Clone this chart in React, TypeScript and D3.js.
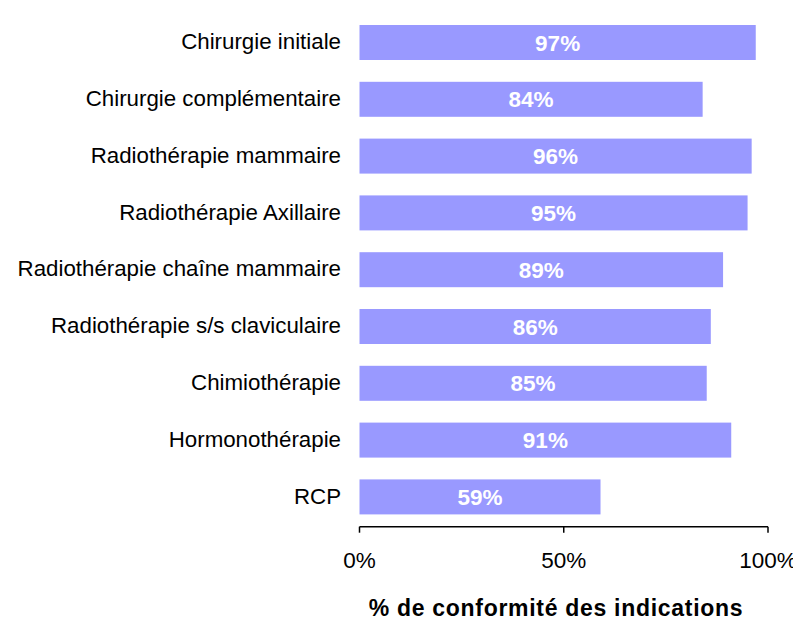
import React from "react";
import * as d3 from "d3";

const categories = [
  "Chirurgie initiale",
  "Chirurgie complémentaire",
  "Radiothérapie mammaire",
  "Radiothérapie Axillaire",
  "Radiothérapie chaîne mammaire",
  "Radiothérapie s/s claviculaire",
  "Chimiothérapie",
  "Hormonothérapie",
  "RCP",
];
const values = [97, 84, 96, 95, 89, 86, 85, 91, 59];
const ticks = [0, 50, 100];
const axisTitle = "% de conformité des indications";

const W = 793;
const H = 623;
const FONT = "'Liberation Sans', Arial, sans-serif";

export default function App() {
  const x = d3.scaleLinear().domain([0, 100]).range([359.5, 768]);
  const y = d3
    .scaleBand<string>()
    .domain(categories)
    .range([14.1, 525.3])
    .paddingInner(0.384)
    .paddingOuter(0.192);
  const axisY = 526.7;
  return (
    <svg
      width={W}
      height={H}
      style={{ position: "absolute", left: 0, top: 0, background: "#fff" }}
      fontFamily={FONT}
    >
      {categories.map((c, i) => {
        const yc = (y(c) as number) + y.bandwidth() / 2;
        return (
          <g key={c}>
            <rect
              x={x(0)}
              y={y(c)}
              width={x(values[i]) - x(0)}
              height={y.bandwidth()}
              fill="#9999FF"
            />
            <text
              x={(x(0) + x(values[i])) / 2}
              y={yc}
              dy="0.36em"
              textAnchor="middle"
              fill="#fff"
              fontWeight="bold"
              fontSize={22.5}
            >
              {values[i]}%
            </text>
            <text x={341} y={yc} dy="0.3em" textAnchor="end" fontSize={22.3} fill="#000">
              {c}
            </text>
          </g>
        );
      })}
      <line x1={x(0)} x2={x(100)} y1={axisY} y2={axisY} stroke="#000" strokeWidth={1.5} />
      {ticks.map((t) => (
        <g key={t}>
          <line x1={x(t)} x2={x(t)} y1={axisY} y2={axisY + 6} stroke="#000" strokeWidth={1.5} />
          <text x={x(t)} y={568} textAnchor="middle" fontSize={22.5} fill="#000">
            {t}%
          </text>
        </g>
      ))}
      <text
        x={556}
        y={616}
        textAnchor="middle"
        fontSize={23}
        fontWeight="bold"
        letterSpacing={0.7}
        fill="#000"
      >
        {axisTitle}
      </text>
    </svg>
  );
}
